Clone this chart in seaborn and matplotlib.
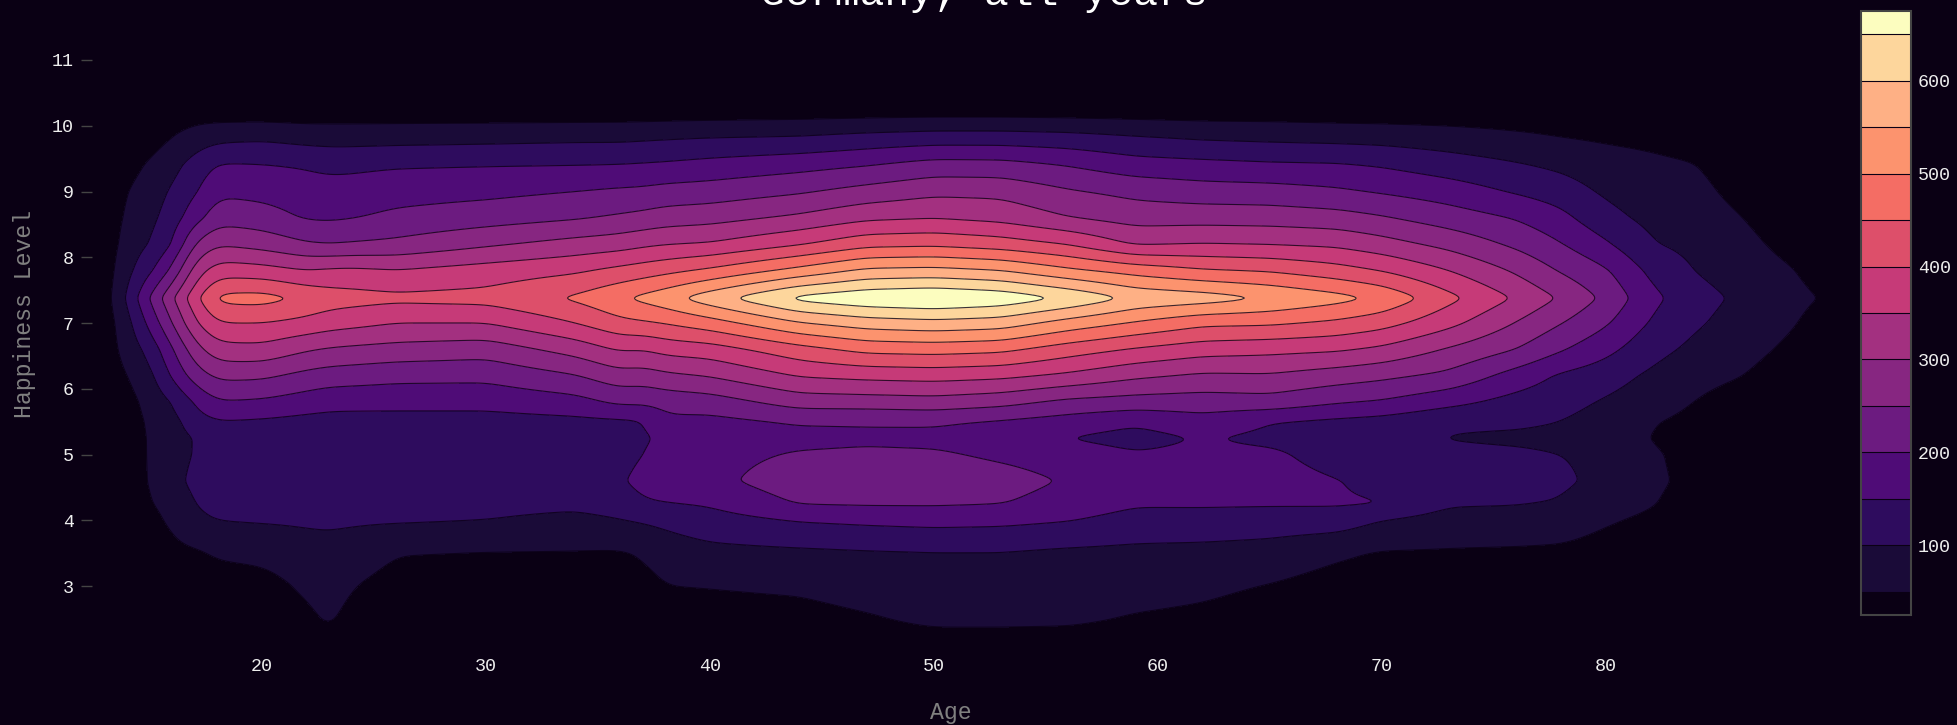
import numpy as np
import matplotlib
matplotlib.use('Agg')
import matplotlib.pyplot as plt
import seaborn as sns

# happiness levels the columns below are read at
happiness = [2.0, 2.5, 3.0, 3.5, 4.0, 4.25, 4.6, 5.0, 5.25, 5.5, 5.8, 6.2,
             6.6, 7.0, 7.38, 7.8, 8.2, 8.6, 9.0, 9.4, 9.8, 10.2, 11.8]

age_13 = [20, 20, 20, 20, 20, 20, 20, 20, 20, 20, 20, 20, 20, 20, 20, 20, 20, 20, 20, 20, 20, 20, 20]
age_14 = [20, 20, 20, 20, 20, 20, 20, 20, 20, 22, 30, 50, 72, 85, 110, 90, 72, 60, 51, 35, 22, 20, 20]
age_15 = [20, 20, 20, 20, 38, 50, 56, 58, 58, 62, 70, 85, 115, 165, 205, 140, 102, 85, 70, 55, 30, 20, 20]
age_16 = [20, 20, 20, 38, 57, 62, 80, 78, 80, 82, 100, 158, 196, 250, 295, 209, 145, 127, 109, 83, 52, 22, 20]
age_17 = [20, 20, 24, 42, 92, 105, 118, 105, 103, 128, 158, 225, 283, 345, 385, 325, 258, 180, 143, 121, 74, 28, 20]
age_18 = [20, 20, 24, 57, 101, 110, 118, 122, 124, 148, 198, 263, 332, 400, 465, 378, 297, 232, 192, 155, 90, 26, 20]
age_20 = [20, 20, 30, 64, 104, 112, 118, 122, 124, 143, 192, 260, 335, 400, 470, 370, 281, 222, 185, 152, 95, 26, 20]
age_22 = [20, 36, 60, 82, 106, 112, 118, 122, 125, 135, 175, 235, 305, 385, 440, 350, 255, 195, 172, 145, 85, 24, 20]
age_23 = [28, 62, 76, 88, 106, 112, 118, 122, 124, 133, 166, 226, 295, 372, 425, 358, 250, 193, 169, 138, 83, 25, 20]
age_24 = [20, 30, 52, 78, 106, 112, 118, 122, 124, 133, 165, 223, 290, 365, 420, 360, 255, 198, 170, 140, 83, 25, 20]
age_26 = [20, 22, 30, 52, 105, 112, 118, 122, 124, 132, 165, 215, 282, 350, 412, 352, 262, 212, 180, 145, 85, 25, 20]
age_30 = [20, 20, 28, 48, 100, 110, 116, 120, 123, 132, 165, 213, 272, 350, 418, 372, 292, 228, 187, 148, 88, 25, 20]
age_34 = [20, 20, 28, 47, 90, 108, 116, 120, 124, 138, 182, 247, 320, 400, 458, 392, 318, 245, 200, 150, 92, 25, 20]
age_36 = [20, 20, 24, 45, 98, 118, 140, 128, 128, 142, 211, 282, 357, 437, 495, 414, 328, 258, 208, 152, 92, 26, 20]
age_37 = [20, 20, 32, 55, 105, 143, 172, 150, 140, 146, 207, 275, 350, 443, 512, 425, 340, 265, 210, 155, 95, 26, 20]
age_38 = [20, 20, 50, 72, 112, 148, 176, 172, 165, 190, 217, 290, 368, 452, 532, 436, 348, 275, 218, 158, 98, 27, 20]
age_40 = [20, 30, 52, 85, 130, 155, 185, 182, 182, 186, 226, 303, 377, 478, 580, 459, 355, 282, 223, 167, 103, 28, 20]
age_44 = [20, 33, 58, 90, 153, 202, 232, 205, 185, 205, 272, 354, 432, 547, 665, 516, 396, 310, 244, 183, 108, 30, 20]
age_47 = [20, 45, 71, 95, 160, 205, 235, 210, 190, 205, 275, 365, 465, 575, 690, 560, 435, 340, 268, 198, 120, 32, 20]
age_50 = [20, 60, 78, 98, 165, 205, 238, 208, 185, 208, 280, 370, 470, 585, 700, 565, 440, 348, 288, 220, 128, 34, 20]
age_53 = [20, 60, 78, 98, 162, 201, 222, 190, 172, 195, 267, 362, 462, 575, 685, 550, 425, 335, 286, 218, 128, 34, 20]
age_56 = [20, 58, 76, 90, 152, 178, 195, 175, 149, 178, 238, 340, 425, 530, 645, 510, 398, 302, 255, 198, 122, 32, 20]
age_59 = [20, 46, 68, 87, 132, 155, 170, 155, 132, 158, 228, 310, 395, 495, 590, 480, 345, 279, 236, 172, 108, 30, 20]
age_62 = [20, 40, 60, 85, 130, 156, 165, 162, 154, 182, 225, 292, 372, 462, 575, 455, 352, 280, 223, 165, 97, 28, 20]
age_65 = [20, 28, 48, 80, 125, 155, 172, 160, 138, 152, 230, 295, 365, 458, 548, 445, 348, 278, 220, 158, 92, 28, 20]
age_68 = [20, 22, 30, 58, 125, 155, 152, 128, 125, 140, 205, 275, 357, 440, 518, 420, 340, 270, 208, 155, 88, 25, 20]
age_70 = [20, 20, 26, 46, 100, 152, 136, 118, 118, 132, 195, 262, 340, 420, 492, 398, 320, 255, 195, 146, 85, 24, 20]
age_73 = [20, 20, 24, 45, 80, 105, 118, 112, 98, 108, 165, 238, 295, 365, 415, 350, 285, 225, 175, 125, 75, 24, 20]
age_76 = [20, 20, 22, 42, 82, 102, 112, 108, 92, 108, 132, 180, 250, 298, 345, 293, 240, 197, 145, 105, 62, 22, 20]
age_78 = [20, 20, 22, 40, 76, 97, 110, 100, 88, 100, 118, 143, 205, 252, 295, 245, 203, 165, 125, 90, 52, 22, 20]
age_80 = [20, 20, 22, 30, 55, 68, 85, 88, 80, 78, 95, 122, 165, 207, 240, 207, 158, 115, 92, 70, 45, 21, 20]
age_82 = [20, 20, 20, 24, 42, 54, 62, 58, 49, 54, 72, 92, 118, 145, 165, 138, 103, 88, 75, 60, 40, 20, 20]
age_84 = [20, 20, 20, 20, 24, 28, 35, 32, 26, 38, 49, 65, 88, 106, 118, 98, 87, 75, 64, 52, 30, 20, 20]
age_86 = [20, 20, 20, 20, 20, 20, 20, 20, 20, 22, 30, 52, 68, 82, 92, 78, 66, 52, 36, 24, 20, 20, 20]
age_88 = [20, 20, 20, 20, 20, 20, 20, 20, 20, 20, 22, 28, 44, 58, 66, 56, 38, 24, 20, 20, 20, 20, 20]
age_90 = [20, 20, 20, 20, 20, 20, 20, 20, 20, 20, 20, 20, 22, 30, 44, 30, 22, 20, 20, 20, 20, 20, 20]

ages = [13, 14, 15, 16, 17, 18, 20, 22, 23, 24, 26, 30, 34, 36, 37, 38, 40, 44,
        47, 50, 53, 56, 59, 62, 65, 68, 70, 73, 76, 78, 80, 82, 84, 86, 88, 90]
columns = [age_13, age_14, age_15, age_16, age_17, age_18, age_20, age_22, age_23,
           age_24, age_26, age_30, age_34, age_36, age_37, age_38, age_40, age_44,
           age_47, age_50, age_53, age_56, age_59, age_62, age_65, age_68, age_70,
           age_73, age_76, age_78, age_80, age_82, age_84, age_86, age_88, age_90]

x_ticks = [20, 30, 40, 50, 60, 70, 80]
y_ticks = [3, 4, 5, 6, 7, 8, 9, 10, 11]
bar_ticks = [100, 200, 300, 400, 500, 600]
levels = [0, 50, 100, 150, 200, 250, 300, 350, 400, 450, 500, 550, 600, 650, 1000]
band_colors = ['#0a0014', '#1a0b38', '#2e0c5e', '#4f0c77', '#6c1b80', '#872681', '#a33080',
               '#c63a78', '#dd4f6a', '#f46d64', '#fc936e', '#feb085', '#fdd69c', '#fcfdbf']


def blur(a, sigma, axis):
    # gaussian along one axis, only rounds the corners of the drawn contours
    r = int(3 * sigma) + 1
    k = np.exp(-0.5 * (np.arange(-r, r + 1) / sigma) ** 2)
    k = k / k.sum()
    pad = [(r, r) if i == axis else (0, 0) for i in range(2)]
    a = np.pad(a, pad, mode='edge')
    return np.apply_along_axis(lambda v: np.convolve(v, k, mode='valid'), axis, a)


sns.set_theme(style='dark', rc={'figure.facecolor': '#0a0014', 'axes.facecolor': '#0a0014'})
plt.rcParams['font.family'] = ['Liberation Mono', 'DejaVu Sans Mono']

W, H = 1957, 725
fig = plt.figure(figsize=(W / 100, H / 100), dpi=100)
ax = fig.add_axes([92 / W, (H - 640) / H, (1845 - 92) / W, (640 - 10) / H])

# fine mesh for drawing, like the smoothing option of a contour trace
draw_age = np.arange(13, 90.01, 0.1)
draw_h = np.arange(2.0, 11.801, 0.02)
z = np.array(columns).T
z = np.array([np.interp(draw_age, ages, row) for row in z])
z = np.array([np.interp(draw_h, happiness, col) for col in z.T]).T
z = blur(z, 4.5, 1)
z = blur(z, 2.0, 0)

cf = ax.contourf(draw_age, draw_h, z, levels=levels, colors=sns.color_palette(band_colors))
ax.contour(draw_age, draw_h, z, levels=levels[1:-1], colors='#0a0014', linewidths=0.8, alpha=0.8)

# limits come from tick pixel positions in the picture
ax.set_xlim(12.4, 90.7)
ax.set_ylim(2.18, 11.76)
ax.set_xticks(x_ticks)
ax.set_yticks(y_ticks)
ax.tick_params(axis='x', length=0, pad=13, labelsize=13.2, labelcolor='#eeeeee')
ax.tick_params(axis='y', left=True, length=8, width=1, color='#444444', pad=5, labelsize=13.2, labelcolor='#eeeeee')
sns.despine(ax=ax, left=True, bottom=True)
ax.grid(False)

fig.text(984 / W, (H - 5) / H, 'Germany, all years', color='white', fontsize=29.8,
         ha='center', va='baseline')
fig.text(951 / W, (H - 712) / H, 'Age', color='#808080', fontsize=16.7, ha='center', va='center')
fig.text(25 / W, (H - 314) / H, 'Happiness Level', color='#808080', fontsize=16.7,
         rotation=90, ha='center', va='center')

cax = fig.add_axes([1861 / W, (H - 615) / H, 50 / W, (615 - 11) / H])
cb = fig.colorbar(cf, cax=cax, spacing='proportional', ticks=bar_ticks, drawedges=True)
cax.set_ylim(25, 675)
cb.dividers.set_color('#0a0014')
cb.dividers.set_linewidth(0.8)
cb.outline.set_edgecolor('#444444')
cb.outline.set_linewidth(1.5)
cax.tick_params(length=0, pad=5, labelsize=13.2, labelcolor='#eeeeee')

plt.savefig('out.png', dpi=100, facecolor=fig.get_facecolor())
